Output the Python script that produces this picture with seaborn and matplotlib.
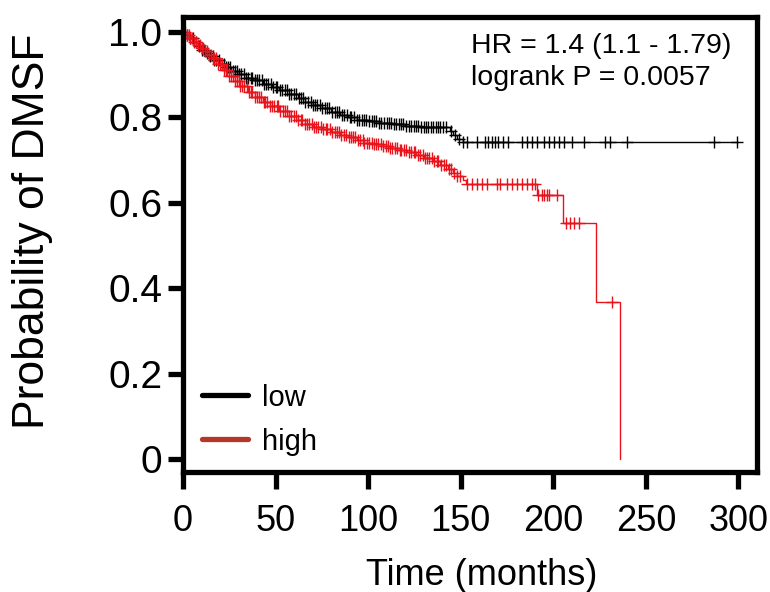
import numpy as np
import matplotlib as mpl
mpl.use("Agg")
import matplotlib.pyplot as plt
from matplotlib.lines import Line2D
import seaborn as sns

# Kaplan-Meier step values (time in months, survival)
low_t = [0, 2, 4, 6, 8, 10, 12, 14, 17, 20, 23, 26, 30, 34, 38, 43, 48, 52,
         57, 62, 66, 70, 75, 80, 85, 89, 94, 100, 106, 113, 120, 128, 144,
         146, 148, 151]
low_s = [1.0, 0.993, 0.985, 0.976, 0.967, 0.958, 0.951, 0.944, 0.935, 0.926,
         0.917, 0.909, 0.901, 0.893, 0.887, 0.879, 0.871, 0.864, 0.855, 0.845,
         0.837, 0.829, 0.821, 0.812, 0.805, 0.800, 0.795, 0.791, 0.787, 0.784,
         0.781, 0.778, 0.767, 0.759, 0.750, 0.742]
low_end = 300

high_t = [0, 2, 4, 6, 8, 10, 12, 14, 16, 19, 22, 25, 28, 31, 35, 39, 43, 47,
          52, 57, 62, 66, 70, 75, 80, 85, 89, 94, 98, 103, 108, 112, 117, 121,
          126, 130, 135, 139, 143, 146, 148, 151, 153, 191, 205, 223, 236]
high_s = [1.0, 0.993, 0.985, 0.977, 0.970, 0.962, 0.955, 0.947, 0.939, 0.925,
          0.910, 0.897, 0.885, 0.873, 0.860, 0.848, 0.836, 0.826, 0.814, 0.803,
          0.793, 0.785, 0.778, 0.772, 0.766, 0.759, 0.754, 0.746, 0.741, 0.737,
          0.733, 0.729, 0.724, 0.718, 0.711, 0.705, 0.697, 0.689, 0.679, 0.670,
          0.662, 0.653, 0.645, 0.618, 0.552, 0.368, 0.0]

# censored observations
low_cens = [2, 4, 5.5, 7, 8.5, 10, 11.5, 13, 14.5, 16, 17, 18, 19.5, 21, 22,
            23, 24.5, 25.5, 27, 28, 29, 30.5, 31.5, 33, 34, 35, 36.5, 37.5,
            39, 40, 41, 42.5, 44, 45, 46, 47.5, 48.5, 50, 51, 52.5, 53.5, 55,
            56, 57.5, 58.5, 60, 61, 62.5, 63.5, 65, 66, 67.5, 69, 70, 71.5,
            72.5, 74, 75, 76.5, 78, 79, 80.5, 82, 83, 84.5, 86, 87, 88.5, 90,
            91, 92.5, 94, 95, 96.5, 98, 99, 100.5, 102, 103, 104.5, 106, 107,
            108.5, 110, 111, 112.5, 114, 115, 116.5, 118, 119, 120.5, 122, 123,
            124.5, 126, 127, 128.5, 130, 131, 132.5, 134, 135, 136.5, 138, 139,
            140.5, 142, 145, 147, 149,
            151.5, 153.3, 158.7, 163.2, 165, 166.9, 168.6, 170.4, 173.1, 175.8,
            183.1, 185.8, 188.5, 191.2, 194.8, 197.5, 200.2, 202.9, 205.6,
            210.1, 216.4, 228.1, 230.8, 239.8, 286.6, 299.3]
high_cens = [1, 2, 3, 4, 5, 6, 7, 8, 9, 10, 11, 12, 13, 14, 15, 16, 17, 18,
             19, 20, 21, 22, 23, 24, 25, 26, 27, 28, 29, 30, 31, 32, 33, 34.5,
             35.5, 36.5, 37.5, 39, 40, 41, 42, 43.5, 44.5, 45.5, 47, 48, 49,
             50.5, 51.5, 52.5, 54, 55, 56, 57.5, 58.5, 60, 61, 62, 63.5, 64.5,
             66, 67, 68, 69.5, 70.5, 72, 73, 74.5, 75.5, 77, 78, 79.5, 80.5, 82,
             83, 84.5, 85.5, 87, 88, 89.5, 90.5, 92, 93, 94.5, 95.5, 97, 98,
             99.5, 100.5, 102, 103, 104.5, 105.5, 107, 108, 109.5, 110.5, 112,
             113, 114.5, 115.5, 117, 118, 119.5, 120.5, 122, 123, 124.5, 125.5,
             127, 128, 129.5, 130.5, 132, 133, 134.5, 135.5, 137, 138, 139.5,
             141, 142, 143.5, 145, 146.5, 148, 149.5,
             153.3, 156, 158.7, 161.5, 164.1, 169.5, 171.4, 175, 177.7, 180.4,
             183.1, 185.8, 188.5, 190.3, 192, 193.9, 194.8, 196.6, 197.5, 202,
             207, 208.8, 211, 213.7, 231.7]

groups = ["low", "high"]
curve_colors = {"low": "black", "high": "#E8131B"}
legend_colors = {"low": "black", "high": "#B5372A"}

sns.set_style("white")
plt.rcParams["font.family"] = ["Liberation Sans", "DejaVu Sans"]
plt.rcParams["text.color"] = "black"
plt.rcParams["axes.labelcolor"] = "black"
plt.rcParams["xtick.color"] = "black"
plt.rcParams["ytick.color"] = "black"


def surv_at(t_steps, s_steps, t):
    idx = np.searchsorted(np.asarray(t_steps), t, side="right") - 1
    return np.asarray(s_steps)[idx]


fig = plt.figure(figsize=(7.7, 5.92), dpi=100)
ax = fig.add_axes([0.2377, 0.2027, 0.7453, 0.7686])

curves = {
    "low": (low_t + [low_end], low_s + [low_s[-1]], low_cens),
    "high": (high_t, high_s, high_cens),
}
for g in groups:
    t, s, cens = curves[g]
    sns.lineplot(x=t, y=s, drawstyle="steps-post", color=curve_colors[g],
                 lw=1.0, ax=ax, estimator=None, sort=False)
    cy = surv_at(t, s, cens)
    ax.plot(cens, cy, ls="none", marker="+", ms=9, mew=1.0,
            color=curve_colors[g])

ax.set_xlim(0, 310)
ax.set_ylim(-0.03, 1.035)
ax.set_xticks([0, 50, 100, 150, 200, 250, 300])
ax.set_yticks([0, 0.2, 0.4, 0.6, 0.8, 1.0])
ax.set_yticklabels(["0", "0.2", "0.4", "0.6", "0.8", "1.0"])

for sp in ax.spines.values():
    sp.set_visible(True)
    sp.set_linewidth(3.8)
    sp.set_color("black")
ax.tick_params(axis="y", direction="out", length=11, width=3.8,
               labelsize=28, pad=4, left=True)
ax.tick_params(axis="x", direction="out", length=12, width=3.8,
               labelsize=26, pad=11, bottom=True)

ax.set_ylabel("Probability of DMSF", fontsize=32)
ax.yaxis.set_label_coords(-0.226, 0.53)
ax.set_xlabel("Time (months)", fontsize=26)
ax.xaxis.set_label_coords(0.52, -0.19)

ax.text(0.502, 0.921, "HR = 1.4 (1.1 - 1.79)", transform=ax.transAxes,
        fontsize=20.5, va="baseline", ha="left")
ax.text(0.502, 0.851, "logrank P = 0.0057", transform=ax.transAxes,
        fontsize=20.5, va="baseline", ha="left")

handles = [Line2D([], [], color=legend_colors[g], lw=3.8) for g in groups]
ax.legend(handles, groups, loc="center left", bbox_to_anchor=(0.033, 0.115),
          frameon=False, fontsize=21, handlelength=1.58, handletextpad=0.48,
          labelspacing=0.55, borderpad=0, borderaxespad=0)

fig.savefig("out.png", dpi=100)
